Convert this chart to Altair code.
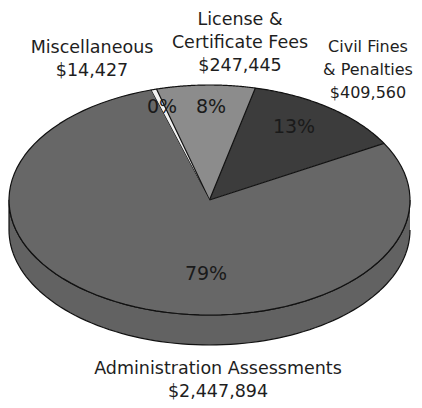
import math
import altair as alt
import pandas as pd

# ---- data ----
categories = ["Miscellaneous", "License & Certificate Fees",
              "Civil Fines & Penalties", "Administration Assessments"]
amounts = [14427, 247445, 409560, 2447894]
percent_labels = ["0%", "8%", "13%", "79%"]
label_lines = [["Miscellaneous"], ["License &", "Certificate Fees"],
               ["Civil Fines", "& Penalties"], ["Administration Assessments"]]
slice_colors = ["#f2f2f2", "#8c8c8c", "#3c3c3c", "#676767"]

# ---- geometry / style (page pixel coordinates) ----
CX, CY, RX, RY, DEPTH = 209.5, 200.0, 200.5, 115.0, 30.0
START = math.radians(-17.0)
N = 90
SIDE_COLOR = "#626262"
FONT = "DejaVu Sans"

# annotation anchors (x centre, first-line baseline, font size)
label_x = [92, 240, 368, 218]
label_y = [53, 25, 52, 374]
label_size = [17.5, 17.5, 16, 17.5]
pct_x = [162, 211, 294, 206]
pct_y = [113, 113, 133, 280]

xscale = alt.Scale(domain=[8, 414], nice=False, zero=False)
yscale = alt.Scale(domain=[8, 400], nice=False, zero=False, reverse=True)

df = pd.DataFrame({"category": categories, "amount": amounts,
                   "order": list(range(len(categories)))})

# 3D side band (front half of the disc)
side = alt.Chart(alt.sequence(0, 2 * N + 2, as_="i")).transform_calculate(
    ang=f"datum.i <= {N} ? PI/2 + PI*datum.i/{N} : 3*PI/2 - PI*(datum.i-{N}-1)/{N}",
    off=f"datum.i <= {N} ? 0 : {DEPTH}",
).transform_calculate(
    px=f"{CX} + {RX}*sin(datum.ang)",
    py=f"{CY} - {RY}*cos(datum.ang) + datum.off",
).mark_line(fill=SIDE_COLOR, stroke="#111111", strokeWidth=1.2, strokeJoin="round").encode(
    x=alt.X("px:Q", scale=xscale, axis=None),
    y=alt.Y("py:Q", scale=yscale, axis=None),
    order="i:Q",
)

# top face slices
top = alt.Chart(df).transform_window(
    cum="sum(amount)", sort=[alt.SortField("order")], frame=[None, 0]
).transform_joinaggregate(total="sum(amount)").transform_calculate(
    a0=f"{START} + 2*PI*(datum.cum - datum.amount)/datum.total",
    a1=f"{START} + 2*PI*datum.cum/datum.total",
    idx=f"sequence(0, {N + 2})",
).transform_flatten(["idx"]).transform_calculate(
    ang=f"datum.idx == 0 ? 0 : datum.a0 + (datum.a1 - datum.a0)*(datum.idx-1)/{N}",
).transform_calculate(
    px=f"datum.idx == 0 ? {CX} : {CX} + {RX}*sin(datum.ang)",
    py=f"datum.idx == 0 ? {CY} : {CY} - {RY}*cos(datum.ang)",
).mark_line(stroke="#111111", strokeWidth=1.2, strokeJoin="round").encode(
    x=alt.X("px:Q", scale=xscale, axis=None),
    y=alt.Y("py:Q", scale=yscale, axis=None),
    fill=alt.Fill("category:N", scale=alt.Scale(domain=categories, range=slice_colors), legend=None),
    detail="category:N",
    order="idx:Q",
)

# outer labels
lab_df = pd.DataFrame({
    "text": ["\n".join(lines + [f"${v:,}"]) for lines, v in zip(label_lines, amounts)],
    "lx": label_x, "ly": label_y, "fs": label_size,
})
labels = alt.Chart(lab_df).mark_text(
    align="center", baseline="alphabetic", font=FONT,
    lineBreak="\n", lineHeight=23, color="#1e1e1e",
).encode(
    x=alt.X("lx:Q", scale=xscale, axis=None),
    y=alt.Y("ly:Q", scale=yscale, axis=None),
    size=alt.Size("fs:Q", scale=None, legend=None),
    text="text:N",
)

pct_df = pd.DataFrame({"text": percent_labels, "lx": pct_x, "ly": pct_y})
pcts = alt.Chart(pct_df).mark_text(
    align="center", baseline="alphabetic", font=FONT, fontSize=19,
    color="#1a1a1a",
).encode(
    x=alt.X("lx:Q", scale=xscale, axis=None),
    y=alt.Y("ly:Q", scale=yscale, axis=None),
    text="text:N",
)

chart = alt.layer(side, top, pcts, labels).properties(
    width=406, height=392, padding=0,
    autosize=alt.AutoSizeParams(type="none"),
    background="white",
).configure_view(stroke=None)

chart.save("out.html", embed_options={"renderer": "svg", "actions": False})
